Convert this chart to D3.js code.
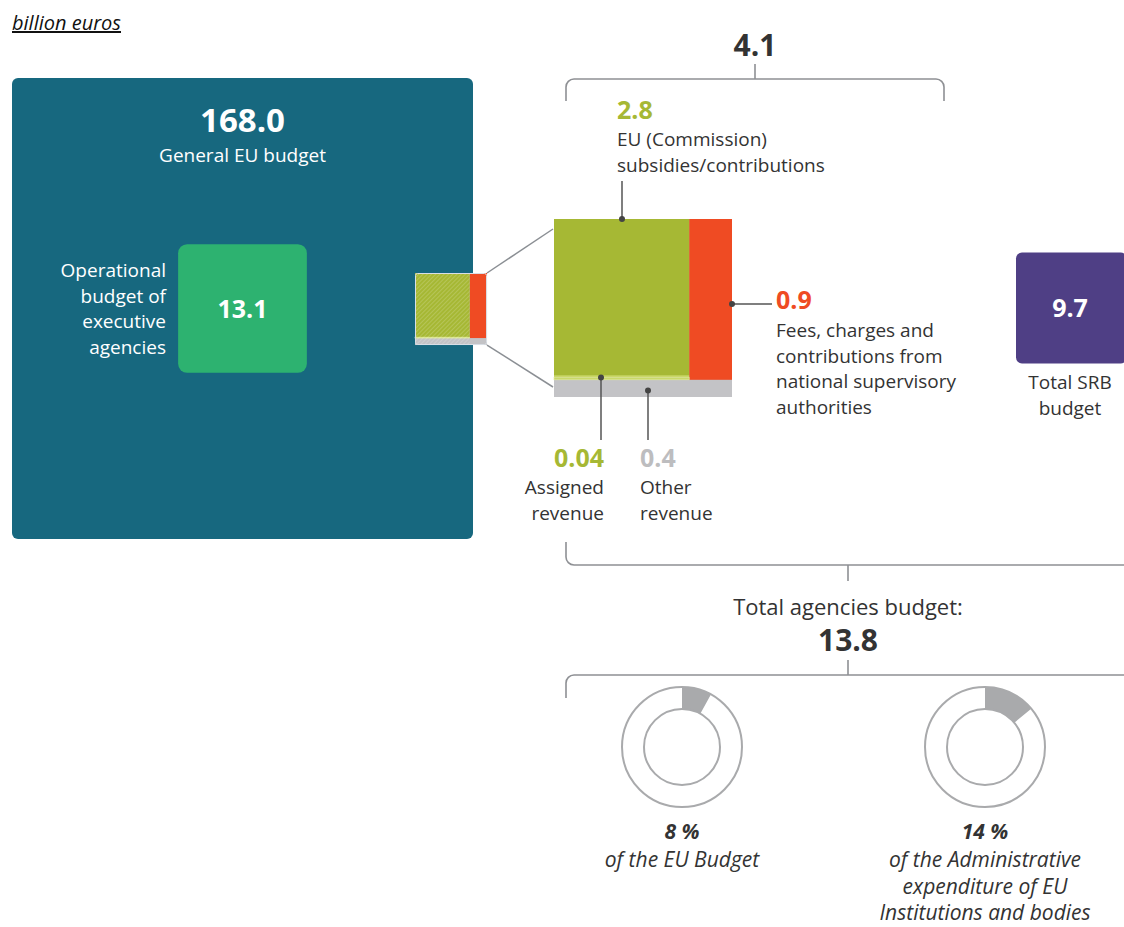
<!DOCTYPE html>
<html>
<head>
<meta charset="utf-8">
<script src="https://cdn.jsdelivr.net/npm/d3@7"></script>
<style>
  body { margin: 0; background: #fff; }
  svg text { font-family: "Open Sans", "Noto Sans", sans-serif; }
</style>
</head>
<body>
<div id="chart"></div>
<script>
// budget values (billion euros)
const GENERAL_BUDGET = 168.0;
const EXEC_AGENCIES = 13.1;
const SRB_BUDGET = 9.7;
const AGENCIES_SUBTOTAL = 4.1;
const AGENCIES_TOTAL = 13.8;

// revenue breakdown of the 4.1
const revenueKeys = ["commission", "fees", "assigned", "other"];
const revenueValues = [2.8, 0.9, 0.04, 0.4];
const revenueLabels = [
  ["EU (Commission)", "subsidies/contributions"],
  ["Fees, charges and", "contributions from", "national supervisory", "authorities"],
  ["Assigned", "revenue"],
  ["Other", "revenue"],
];

// shares of the total agencies budget
const sharePercents = [8, 14];
const shareLabels = [
  ["of the EU Budget"],
  ["of the Administrative", "expenditure of EU", "Institutions and bodies"],
];

const W = 1124, H = 927;
const TEAL = "#17687f", GREEN = "#2db270", OLIVE = "#a6b834",
  RED = "#ef4b23", GREY = "#c3c3c6", PURPLE = "#4f3f85", INK = "#333";
const BODY = 19, VAL = 25;

const rev = Object.fromEntries(revenueKeys.map((k, i) => [k, revenueValues[i]]));

const svg = d3.select("#chart").append("svg")
  .attr("width", W).attr("height", H);

const defs = svg.append("defs");
defs.append("pattern")
  .attr("id", "hatch").attr("patternUnits", "userSpaceOnUse")
  .attr("width", 3).attr("height", 3)
  .attr("patternTransform", "rotate(45)")
  .append("line")
  .attr("x1", 0).attr("y1", 0).attr("x2", 0).attr("y2", 3)
  .attr("stroke", "#fff").attr("stroke-opacity", 0.35).attr("stroke-width", 1);

// area scale: side of a square is proportional to sqrt(value)
const side = d3.scaleSqrt().domain([0, GENERAL_BUDGET]).range([0, 461]);

// unit label
svg.append("text")
  .attr("x", 12).attr("y", 30)
  .attr("font-size", 20).attr("font-style", "italic")
  .attr("text-decoration", "underline").attr("fill", "#111")
  .text("billion euros");

// general EU budget
const gx = 12, gy = 78, gs = side(GENERAL_BUDGET);
svg.append("rect").attr("x", gx).attr("y", gy)
  .attr("width", gs).attr("height", gs).attr("rx", 6).attr("fill", TEAL);
svg.append("text").attr("x", gx + gs / 2).attr("y", 132)
  .attr("text-anchor", "middle").attr("font-size", 33).attr("font-weight", 700)
  .attr("fill", "#fff").text(GENERAL_BUDGET.toFixed(1));
svg.append("text").attr("x", gx + gs / 2).attr("y", 162)
  .attr("text-anchor", "middle").attr("font-size", BODY)
  .attr("fill", "#fff").text("General EU budget");

// executive agencies
const es = side(EXEC_AGENCIES), ex = 242.5 - es / 2, ey = 308.5 - es / 2;
svg.append("rect").attr("x", ex).attr("y", ey)
  .attr("width", es).attr("height", es).attr("rx", 9).attr("fill", GREEN);
svg.append("text").attr("x", ex + es / 2).attr("y", ey + es / 2 + 9)
  .attr("text-anchor", "middle").attr("font-size", VAL).attr("font-weight", 700)
  .attr("fill", "#fff").text(EXEC_AGENCIES.toFixed(1));
svg.append("text").attr("text-anchor", "end").attr("font-size", BODY).attr("fill", "#fff")
  .selectAll("tspan")
  .data(["Operational", "budget of", "executive", "agencies"])
  .join("tspan")
  .attr("x", 166).attr("y", (d, i) => 277 + i * 25.5)
  .text(d => d);

// treemap-like breakdown of the 4.1
const revTotal = d3.sum(revenueValues);
function breakdown(x0, y0, s, hatched) {
  const y = d3.scaleLinear().domain([0, revTotal]).range([0, s]);
  const greyH = y(rev.other);
  const topH = s - greyH;
  const x = d3.scaleLinear().domain([0, revTotal - rev.other]).range([0, s]);
  const redW = x(rev.fees);
  const colW = s - redW;
  const ya = d3.scaleLinear().domain([0, rev.commission + rev.assigned]).range([0, topH]);
  const assignedH = ya(rev.assigned);
  const g = svg.append("g").attr("transform", `translate(${x0},${y0})`);
  const cells = [
    { k: "other", x: 0, y: topH, w: s, h: greyH, c: GREY },
    { k: "fees", x: colW, y: 0, w: redW, h: topH, c: RED },
    { k: "commission", x: 0, y: 0, w: colW, h: topH - assignedH, c: OLIVE },
    { k: "assigned", x: 0, y: topH - assignedH, w: colW, h: assignedH, c: "#c9d86a" },
  ];
  g.append("rect").attr("width", s).attr("height", s).attr("rx", 3).attr("fill", GREY);
  g.selectAll("rect.cell").data(cells).join("rect").attr("class", "cell")
    .attr("x", d => d.x).attr("y", d => d.y)
    .attr("width", d => d.w).attr("height", d => d.h)
    .attr("fill", d => d.c)
    .attr("stroke", d => d.k === "assigned" ? "#e3ec9c" : "none")
    .attr("stroke-width", 0.6);
  if (hatched) {
    g.append("rect").attr("width", colW).attr("height", s)
      .attr("fill", "url(#hatch)");
    g.append("rect").attr("x", 0.5).attr("y", 0.5).attr("width", s - 1).attr("height", s - 1)
      .attr("rx", 2).attr("fill", "none").attr("stroke", "#d9dfe6").attr("stroke-width", 1);
  } else {
    g.append("line").attr("x1", 0).attr("x2", colW)
      .attr("y1", topH - assignedH - 1.5).attr("y2", topH - assignedH - 1.5)
      .attr("stroke", "#d6e27a").attr("stroke-width", 1.2);
  }
  return { x0, y0, s, colW, redW, topH, greyH, assignedH };
}

const ss = side(AGENCIES_SUBTOTAL);
const bigS = 178;
// zoom connectors
const small0 = { x: 415, y: 273 };
const big0 = { x: 554, y: 219 };
svg.append("g").attr("stroke", "#8b8f94").attr("stroke-width", 1.5)
  .selectAll("line")
  .data([[small0.x + ss, small0.y, big0.x - 1, big0.y + 10],
         [small0.x + ss, small0.y + ss, big0.x - 1, big0.y + bigS - 10]])
  .join("line")
  .attr("x1", d => d[0]).attr("y1", d => d[1])
  .attr("x2", d => d[2]).attr("y2", d => d[3]);

breakdown(small0.x, small0.y, ss, true);
const B = breakdown(big0.x, big0.y, bigS, false);

// callouts
const leader = svg.append("g").attr("stroke", "#555").attr("stroke-width", 1.5);
const dots = svg.append("g").attr("fill", "#444");
function dot(x, y) { dots.append("circle").attr("cx", x).attr("cy", y).attr("r", 3); }

function label(x, y, anchor, value, color, lines) {
  svg.append("text").attr("x", x).attr("y", y).attr("text-anchor", anchor)
    .attr("font-size", VAL).attr("font-weight", 700).attr("fill", color)
    .text(value);
  svg.append("text").attr("text-anchor", anchor).attr("font-size", BODY).attr("fill", INK)
    .selectAll("tspan").data(lines).join("tspan")
    .attr("x", x).attr("y", (d, i) => y + 27 + i * 25.5).text(d => d);
}

// commission
leader.append("line").attr("x1", 622).attr("x2", 622).attr("y1", 181).attr("y2", B.y0);
dot(622, B.y0);
label(617, 119, "start", revenueValues[0].toFixed(1), OLIVE, revenueLabels[0]);
// fees
const fy = B.y0 + 85;
leader.append("line").attr("x1", B.x0 + bigS).attr("x2", 772).attr("y1", fy).attr("y2", fy);
dot(B.x0 + bigS, fy);
svg.append("text").attr("x", 776).attr("y", 309).attr("font-size", VAL).attr("font-weight", 700)
  .attr("fill", RED).text(revenueValues[1].toFixed(1));
svg.append("text").attr("font-size", BODY).attr("fill", INK)
  .selectAll("tspan").data(revenueLabels[1]).join("tspan")
  .attr("x", 776).attr("y", (d, i) => 337 + i * 25.5).text(d => d);
// assigned
const ay = B.y0 + B.topH - B.assignedH;
leader.append("line").attr("x1", 601).attr("x2", 601).attr("y1", ay).attr("y2", 440);
dot(601, ay);
label(604, 467, "end", revenueValues[2].toFixed(2), OLIVE, revenueLabels[2]);
// other
const oy = B.y0 + B.topH + B.greyH / 2 + 2;
leader.append("line").attr("x1", 648).attr("x2", 648).attr("y1", oy).attr("y2", 440);
dot(648, oy);
label(640, 467, "start", revenueValues[3].toFixed(1), "#bdbdbf", revenueLabels[3]);

// brackets
const bracketColor = "#8e9094";
function bracketDown(x1, x2, y, depth, r) {
  // horizontal line at y, ends bending down
  const p = d3.path();
  p.moveTo(x1, y + depth);
  p.lineTo(x1, y + r);
  p.arcTo(x1, y, x1 + r, y, r);
  p.lineTo(x2 - r, y);
  p.arcTo(x2, y, x2, y + r, r);
  p.lineTo(x2, y + depth);
  return p.toString();
}
function bracketUp(x1, x2, y, depth, r) {
  const p = d3.path();
  p.moveTo(x1, y - depth);
  p.lineTo(x1, y - r);
  p.arcTo(x1, y, x1 + r, y, r);
  p.lineTo(x2, y);
  return p.toString();
}
const br = svg.append("g").attr("fill", "none").attr("stroke", bracketColor).attr("stroke-width", 1.6);
br.append("path").attr("d", bracketDown(566, 944, 79, 22, 8));
br.append("line").attr("x1", 755).attr("x2", 755).attr("y1", 64).attr("y2", 79);
svg.append("text").attr("x", 755).attr("y", 56).attr("text-anchor", "middle")
  .attr("font-size", 30).attr("font-weight", 700).attr("fill", INK)
  .text(AGENCIES_SUBTOTAL.toFixed(1));

// SRB
const ps = side(SRB_BUDGET), px = 1016, py = 308 - ps / 2;
svg.append("rect").attr("x", px).attr("y", py).attr("width", ps).attr("height", ps)
  .attr("rx", 6).attr("fill", PURPLE);
svg.append("text").attr("x", 1070).attr("y", 317).attr("text-anchor", "middle")
  .attr("font-size", VAL).attr("font-weight", 700).attr("fill", "#fff")
  .text(SRB_BUDGET.toFixed(1));
svg.append("text").attr("text-anchor", "middle").attr("font-size", BODY).attr("fill", INK)
  .selectAll("tspan").data(["Total SRB", "budget"]).join("tspan")
  .attr("x", 1070).attr("y", (d, i) => 389 + i * 25.5).text(d => d);

// total agencies
br.append("path").attr("d", bracketUp(566, W + 5, 565, 23, 8));
br.append("line").attr("x1", 848).attr("x2", 848).attr("y1", 565).attr("y2", 581);
svg.append("text").attr("x", 848).attr("y", 615).attr("text-anchor", "middle")
  .attr("font-size", 22).attr("fill", INK).text("Total agencies budget:");
svg.append("text").attr("x", 848).attr("y", 651).attr("text-anchor", "middle")
  .attr("font-size", 30).attr("font-weight", 700).attr("fill", INK)
  .text(AGENCIES_TOTAL.toFixed(1));
br.append("line").attr("x1", 848).attr("x2", 848).attr("y1", 660).attr("y2", 675);
const p2 = d3.path();
p2.moveTo(566, 698); p2.lineTo(566, 683); p2.arcTo(566, 675, 574, 675, 8); p2.lineTo(W + 5, 675);
br.append("path").attr("d", p2.toString());

// donuts
const donutCx = [682, 985], donutCy = 747;
const arc = d3.arc().innerRadius(38).outerRadius(60);
const angle = d3.scaleLinear().domain([0, 100]).range([0, 2 * Math.PI]);
sharePercents.forEach((pct, i) => {
  const g = svg.append("g").attr("transform", `translate(${donutCx[i]},${donutCy})`);
  g.append("path").attr("d", arc({ startAngle: 0, endAngle: angle(pct) })).attr("fill", "#a9aaac");
  g.append("circle").attr("r", 60).attr("fill", "none").attr("stroke", "#a9aaac").attr("stroke-width", 2);
  g.append("circle").attr("r", 38).attr("fill", "none").attr("stroke", "#a9aaac").attr("stroke-width", 2);
  svg.append("text").attr("x", donutCx[i]).attr("y", 839).attr("text-anchor", "middle")
    .attr("font-size", 21).attr("font-weight", 700).attr("font-style", "italic").attr("fill", INK)
    .text(pct + " %");
  svg.append("text").attr("text-anchor", "middle").attr("font-size", 21)
    .attr("font-style", "italic").attr("fill", INK)
    .selectAll("tspan").data(shareLabels[i]).join("tspan")
    .attr("x", donutCx[i]).attr("y", (d, j) => 867 + j * 26.5).text(d => d);
});
</script>
</body>
</html>
